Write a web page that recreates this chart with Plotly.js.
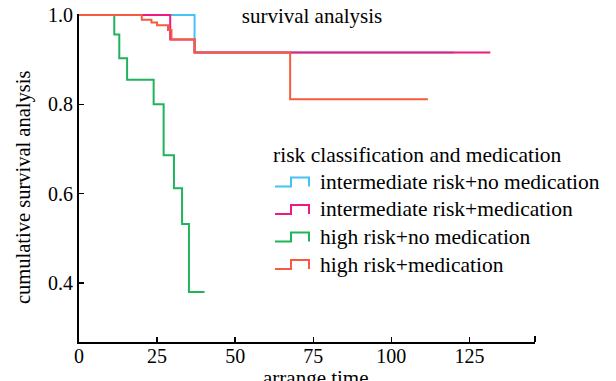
<!DOCTYPE html>
<html><head><meta charset="utf-8">
<script src="https://cdn.plot.ly/plotly-3.0.1.min.js"></script>
<style>html,body{margin:0;padding:0;background:#fff}#chart{width:616px;height:381px}</style>
</head><body><div id="chart"></div>
<script>
// Series names
var seriesNames = ["intermediate risk+no medication","intermediate risk+medication","high risk+no medication","high risk+medication"];
var seriesColors = ["#45c4f2","#ee1a7f","#1fb35c","#f65b3e"];
// Kaplan-Meier step data (time, survival)
var imNoMedT = [0, 37.0, 120];
var imNoMedS = [1.0, 0.916, 0.916];
var imMedT = [0, 29.2, 37.0, 131.7];
var imMedS = [1.0, 0.945, 0.916, 0.916];
var hiNoMedT = [0, 11.3, 12.9, 15.4, 23.9, 27.1, 30.4, 33.0, 35.2, 40.2];
var hiNoMedS = [1.0, 0.956, 0.903, 0.855, 0.800, 0.686, 0.612, 0.532, 0.380, 0.380];
var hiMedT = [0, 20.1, 23.2, 25.0, 28.5, 29.6, 37.0, 67.6, 111.7];
var hiMedS = [1.0, 0.989, 0.983, 0.977, 0.966, 0.945, 0.916, 0.811, 0.811];
var xTicks = [0, 25, 50, 75, 100, 125];
var yTicks = [0.4, 0.6, 0.8, 1.0];

var FONT = "Liberation Serif";
var W = 616, H = 381, ML = 79, MR = 81, MT = 14, MB = 39;
var PW = W - ML - MR, PH = H - MT - MB;
function px(x){ return (x - ML) / PW; }
function py(y){ return (H - MB - y) / PH; }

var allT = [imNoMedT, imMedT, hiNoMedT, hiMedT];
var allS = [imNoMedS, imMedS, hiNoMedS, hiMedS];
var traces = [];
for (var i = 0; i < 4; i++) {
  traces.push({x: allT[i], y: allS[i], type: 'scatter', mode: 'lines', name: seriesNames[i],
    line: {shape: 'hv', color: seriesColors[i], width: 2}, showlegend: false, hoverinfo: 'skip'});
}

var shapes = [{type:'line', xref:'paper', yref:'paper', x0:1, x1:1, y0:0, y1:6/PH, line:{color:'#000', width:2}}];
var annotations = [];
annotations.push({xref:'paper', yref:'paper', x:px(271), y:py(155), xanchor:'left', yanchor:'middle', showarrow:false,
  text:'risk classification and medication', font:{family:FONT, size:21.5, color:'#000'}});
var rows = [182, 209.5, 237, 264.5];
for (var j = 0; j < 4; j++) {
  var cy = rows[j];
  var path = 'M' + px(275) + ',' + py(cy+4.5) + ' L' + px(291) + ',' + py(cy+4.5) + ' L' + px(291) + ',' + py(cy-4.5) +
             ' L' + px(309) + ',' + py(cy-4.5) + ' L' + px(309) + ',' + py(cy+4.5);
  shapes.push({type:'path', xref:'paper', yref:'paper', path:path, line:{color:seriesColors[j], width:2}});
  annotations.push({xref:'paper', yref:'paper', x:px(318), y:py(cy), xanchor:'left', yanchor:'middle', showarrow:false,
    text:seriesNames[j], font:{family:FONT, size:21.5, color:'#000'}});
}
annotations.push({xref:'paper', yref:'paper', x:px(23), y:py(188), xanchor:'center', yanchor:'middle', showarrow:false,
  textangle:-90, text:'cumulative survival analysis', font:{family:FONT, size:20.5, color:'#000'}});
annotations.push({xref:'paper', yref:'paper', x:px(316), y:py(364), xanchor:'center', yanchor:'top', showarrow:false,
  text:'arrange time', font:{family:FONT, size:21, color:'#000'}});

var layout = {
  width: W, height: H, margin: {l: ML, r: MR, t: MT, b: MB},
  paper_bgcolor: '#fff', plot_bgcolor: '#fff', showlegend: false,
  font: {family: FONT, size: 20, color: '#000'},
  title: {text: 'survival analysis', x: 312/W, xref: 'container', y: 1 - 16/H, yref: 'container', xanchor: 'center', yanchor: 'middle',
    font: {family: FONT, size: 21, color: '#000'}},
  xaxis: {range: [0, 146], tickvals: xTicks, ticktext: xTicks.map(String), ticks: 'inside', ticklen: 5, tickwidth: 1.5, tickcolor: '#000',
    ticklabelstandoff: -5,
    showline: true, linecolor: '#000', linewidth: 2, showgrid: false, zeroline: false, tickfont: {family: FONT, size: 20, color: '#000'}},
  yaxis: {range: [0.268, 1.002], tickvals: yTicks, ticktext: yTicks.map(function(v){return v.toFixed(1);}), ticks: 'inside', ticklen: 5, tickwidth: 1.5, tickcolor: '#000',
    showline: true, linecolor: '#000', linewidth: 2, showgrid: false, zeroline: false, tickfont: {family: FONT, size: 20, color: '#000'}},
  shapes: shapes, annotations: annotations
};
Plotly.newPlot('chart', traces, layout, {staticPlot: true, displayModeBar: false});
</script></body></html>
